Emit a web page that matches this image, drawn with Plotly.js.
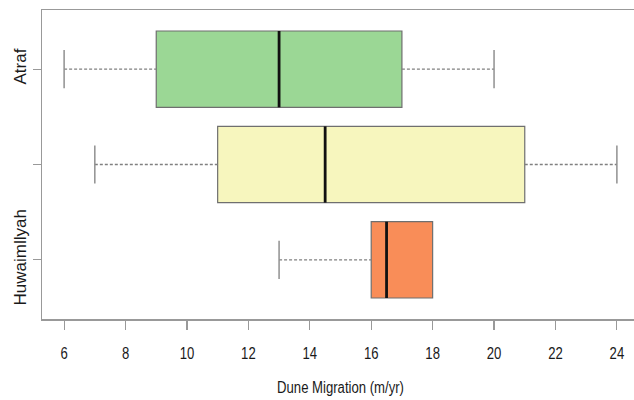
<!DOCTYPE html>
<html>
<head>
<meta charset="utf-8">
<script src="https://cdn.plot.ly/plotly-3.0.1.min.js"></script>
<style>
html, body { margin: 0; padding: 0; overflow: hidden; background: #fff; }
#chart { width: 645px; height: 400px; }
</style>
</head>
<body>
<div id="chart"></div>
<script>
const categories = ['Atraf', '', 'Huwaimllyah'];
const positions = [3, 2, 1];
const lowerWhisker = [6, 7, 13];
const q1 = [9, 11, 16];
const median = [13, 14.5, 16.5];
const q3 = [17, 21, 18];
const upperWhisker = [20, 24, 18];
const fillColors = ['#9BD795', '#F7F6BE', '#F98D58'];
const xTicks = [6, 8, 10, 12, 14, 16, 18, 20, 22, 24];
const xTitle = 'Dune Migration (m/yr)';

const boxHalf = 0.4;
const capHalf = 0.2;
const traces = [];

positions.forEach((p, i) => {
  traces.push({
    type: 'box',
    orientation: 'h',
    y: [p],
    q1: [q1[i]],
    median: [median[i]],
    q3: [q3[i]],
    lowerfence: [q1[i]],
    upperfence: [q3[i]],
    width: boxHalf * 2,
    whiskerwidth: 0,
    fillcolor: fillColors[i],
    line: { color: '#6f6f6f', width: 1.2 },
    boxpoints: false,
    showlegend: false,
    hoverinfo: 'skip'
  });
});

positions.forEach((p, i) => {
  const dots = { color: '#808080', width: 1.3, dash: '3px,2px' };
  const cap = { color: '#909090', width: 1.5 };
  if (lowerWhisker[i] < q1[i]) {
    traces.push({ type: 'scatter', mode: 'lines', x: [lowerWhisker[i], q1[i]], y: [p, p], line: dots, showlegend: false, hoverinfo: 'skip' });
    traces.push({ type: 'scatter', mode: 'lines', x: [lowerWhisker[i], lowerWhisker[i]], y: [p - capHalf, p + capHalf], line: cap, showlegend: false, hoverinfo: 'skip' });
  }
  if (upperWhisker[i] > q3[i]) {
    traces.push({ type: 'scatter', mode: 'lines', x: [q3[i], upperWhisker[i]], y: [p, p], line: dots, showlegend: false, hoverinfo: 'skip' });
    traces.push({ type: 'scatter', mode: 'lines', x: [upperWhisker[i], upperWhisker[i]], y: [p - capHalf, p + capHalf], line: cap, showlegend: false, hoverinfo: 'skip' });
  }
  traces.push({ type: 'scatter', mode: 'lines', x: [median[i], median[i]], y: [p - boxHalf, p + boxHalf], line: { color: '#111', width: 2.8 }, showlegend: false, hoverinfo: 'skip' });
});

const sans = 'Liberation Sans, Arial, Helvetica, sans-serif';

const layout = {
  width: 645,
  height: 400,
  margin: { l: 42, r: 6, t: 10, b: 81 },
  paper_bgcolor: '#fff',
  plot_bgcolor: '#fff',
  hovermode: false,
  showlegend: false,
  font: { family: sans, size: 16, color: '#222' },
  xaxis: {
    range: [5.28, 24.72],
    tickvals: xTicks,
    ticktext: xTicks.map(String),
    showgrid: false,
    zeroline: false,
    showline: true,
    mirror: true,
    linecolor: '#999',
    linewidth: 1.5,
    ticks: 'outside',
    ticklen: 9,
    tickcolor: '#999',
    tickwidth: 1.2,
    ticklabelstandoff: 10,
    tickfont: { family: sans, size: 16, color: '#1a1a1a' },
    title: { text: xTitle, font: { family: sans, size: 16, color: '#1a1a1a' }, standoff: 21 },
    automargin: false
  },
  yaxis: {
    range: [0.38, 3.62],
    tickvals: positions,
    ticktext: categories,
    tickangle: -90,
    showgrid: false,
    zeroline: false,
    showline: true,
    mirror: false,
    linecolor: '#999',
    linewidth: 1.5,
    ticks: 'outside',
    ticklen: 8,
    tickcolor: '#999',
    tickwidth: 1.2,
    tickfont: { family: sans, size: 17, color: '#1a1a1a' },
    automargin: false
  }
};

function condense(gd) {
  const squeeze = 0.82;
  gd.querySelectorAll('.xtick text, .g-xtitle text').forEach(t => {
    const len = t.getComputedTextLength();
    if (len > 0) {
      t.setAttribute('textLength', (len * squeeze).toFixed(2));
      t.setAttribute('lengthAdjust', 'spacingAndGlyphs');
    }
  });
}

Plotly.newPlot('chart', traces, layout, { staticPlot: true, displayModeBar: false })
  .then(gd => condense(gd));
</script>
</body>
</html>
